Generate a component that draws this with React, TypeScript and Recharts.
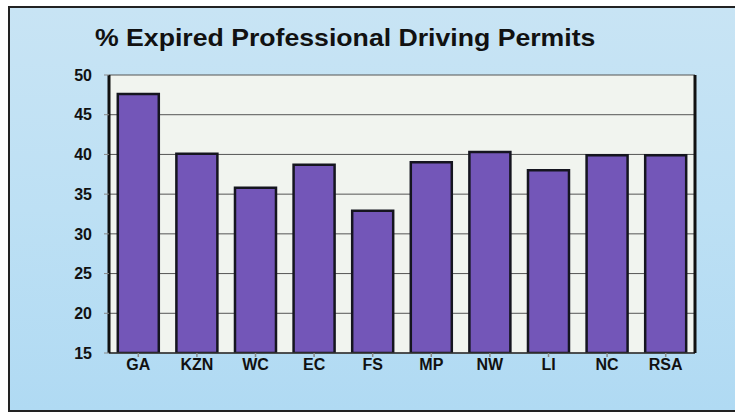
import { BarChart, Bar, XAxis, YAxis, CartesianGrid } from "recharts";

const provinces = ["GA", "KZN", "WC", "EC", "FS", "MP", "NW", "LI", "NC", "RSA"];
const expiredPct = [47.6, 40.1, 35.8, 38.7, 32.9, 39.0, 40.3, 38.0, 39.9, 39.9];
const yTicks = [15, 20, 25, 30, 35, 40, 45, 50];

const data = provinces.map((p, i) => ({ name: p, value: expiredPct[i] }));

const App = () => {
  const tickStyle = { fill: "#111", fontSize: 16, fontWeight: 700, fontFamily: "Liberation Sans, Arial, sans-serif" };

  return (
    <div style={{ position: "absolute", left: 0, top: 0, width: 735, height: 420, background: "#fff", overflow: "hidden" }}>
      <div
        style={{
          position: "absolute",
          left: 8,
          top: 6,
          width: 740,
          height: 402,
          border: "2px solid #222",
          background: "linear-gradient(180deg, #c8e4f4 0%, #bde0f4 50%, #b0daf3 100%)",
        }}
      />
      <div
        style={{
          position: "absolute",
          left: 95,
          top: 24,
          fontFamily: "Liberation Sans, Arial, sans-serif",
          fontWeight: 700,
          fontSize: 24,
          color: "#111",
          whiteSpace: "nowrap",
          transform: "scaleX(1.11)",
          transformOrigin: "left center",
        }}
      >
        % Expired Professional Driving Permits
      </div>
      <div style={{ position: "absolute", left: 0, top: 0 }}>
        <BarChart width={735} height={420} data={data} margin={{ top: 75, right: 0, bottom: 37, left: 0 }} barCategoryGap="15%">
          <CartesianGrid vertical={false} stroke="#555" strokeWidth={1} fill="#f1f4ef" fillOpacity={1} />
          <XAxis
            dataKey="name"
            height={30}
            stroke="#333"
            strokeWidth={1.5}
            tick={tickStyle}
            tickLine={{ stroke: "#888" }}
            tickSize={4}
            tickMargin={2}
            interval={0}
          />
          <YAxis
            width={109}
            domain={[15, 50]}
            ticks={yTicks}
            allowDataOverflow
            stroke="#111"
            strokeWidth={3}
            tick={tickStyle}
            tickLine={{ stroke: "#888", strokeWidth: 1 }}
            tickSize={5}
            tickMargin={12}
          />
          <YAxis yAxisId="right" orientation="right" width={40} domain={[15, 50]} tick={false} tickLine={false} stroke="#111" strokeWidth={3} />
          <Bar dataKey="value" fill="#7356b8" stroke="#15151f" strokeWidth={2.5} isAnimationActive={false} />
        </BarChart>
      </div>
    </div>
  );
};

export default App;
